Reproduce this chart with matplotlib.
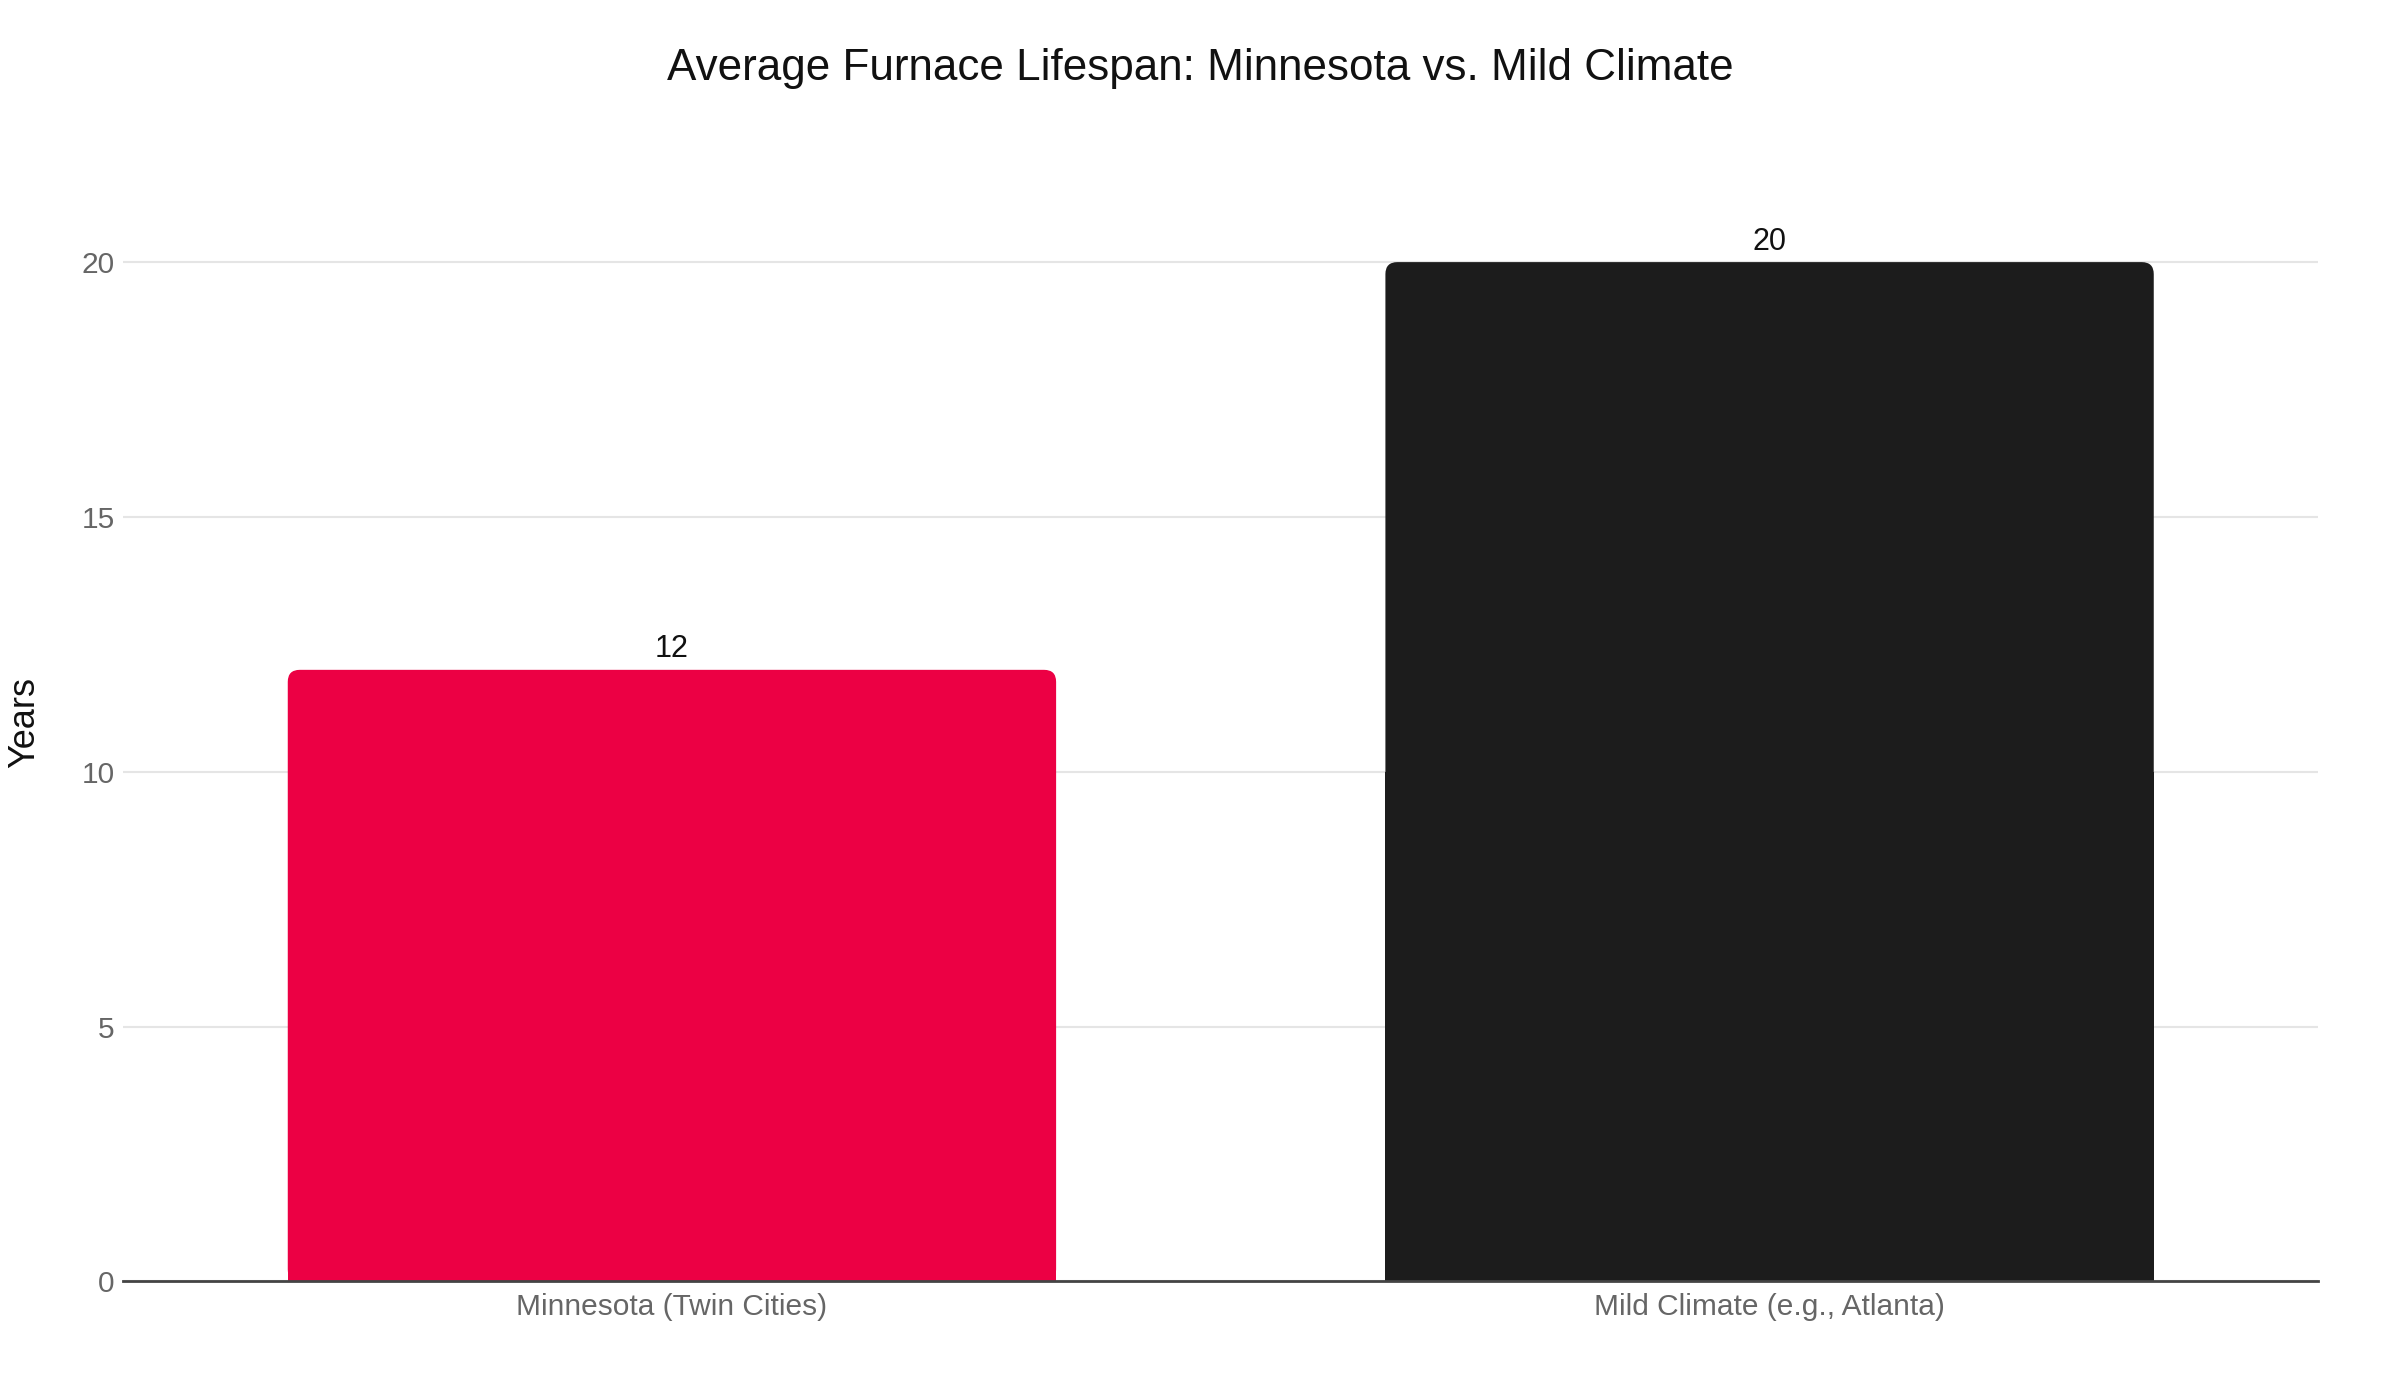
import matplotlib.pyplot as plt
from matplotlib.patches import FancyBboxPatch, Rectangle

categories = ["Minnesota (Twin Cities)", "Mild Climate (e.g., Atlanta)"]
lifespan_years = [12, 20]
bar_colors = ["#EC0044", "#1C1C1C"]
y_ticks = [0, 5, 10, 15, 20]

plt.rcParams["font.family"] = ["Liberation Sans", "DejaVu Sans"]

fig = plt.figure(figsize=(24, 14), dpi=100)
ax = fig.add_axes([0.0513, 0.0847, 0.9147, 0.7663])

x = list(range(len(categories)))
ax.set_xlim(-0.5, len(categories) - 0.5)
ax.set_ylim(0, 21.05)

# bars with rounded top corners
bar_w = 0.7
fig.canvas.draw()
bbox = ax.get_window_extent()
px_per_x = bbox.width / (ax.get_xlim()[1] - ax.get_xlim()[0])
px_per_y = bbox.height / (ax.get_ylim()[1] - ax.get_ylim()[0])
r_px = 12
r_x = r_px / px_per_x
aspect = px_per_x / px_per_y
for xi, v, c in zip(x, lifespan_years, bar_colors):
    ax.add_patch(FancyBboxPatch((xi - bar_w / 2, 0), bar_w, v,
                                boxstyle=f"round,pad=0,rounding_size={r_x}",
                                mutation_aspect=aspect, fc=c, ec="none", zorder=3))
    ax.add_patch(Rectangle((xi - bar_w / 2, 0), bar_w, v / 2, fc=c, ec="none", zorder=3))
    ax.annotate(str(v), (xi, v), xytext=(0, 4), textcoords="offset points",
                ha="center", va="bottom", fontsize=22, color="#111111")

ax.set_xticks(x)
ax.set_xticklabels(categories, fontsize=21.5, color="#666666")
ax.set_yticks(y_ticks)
ax.set_yticklabels([str(t) for t in y_ticks], fontsize=21.5, color="#666666")
ax.tick_params(axis="both", length=0, pad=8)
ax.tick_params(axis="y", pad=6)

ax.grid(axis="y", color="#E5E5E5", linewidth=1.5, zorder=0)
ax.set_axisbelow(True)
for s in ["top", "right", "left"]:
    ax.spines[s].set_visible(False)
ax.spines["bottom"].set_color("#444444")
ax.spines["bottom"].set_linewidth(2)
ax.spines["bottom"].set_zorder(4)

fig.text(0.003, 0.484, "Years", rotation=90, ha="left", va="center",
         fontsize=26, color="#111111")
fig.text(0.5, 0.951, "Average Furnace Lifespan: Minnesota vs. Mild Climate",
         ha="center", va="center", fontsize=31.7, color="#111111")

fig.savefig("out.png", dpi=100, facecolor="white")
